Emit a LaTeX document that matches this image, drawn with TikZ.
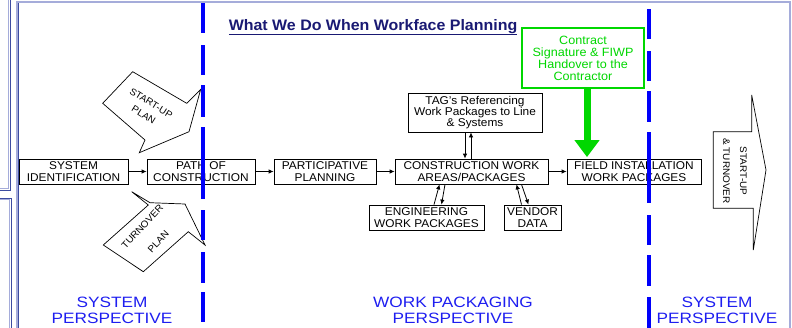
\documentclass[tikz,border=0pt]{standalone}
\usepackage{fontspec}
\setmainfont{Liberation Sans}[FakeStretch=1.05]
\newfontfamily\widefont{Liberation Sans}[FakeStretch=1.15]
\usepackage{tikz}
\usetikzlibrary{arrows.meta}
\definecolor{framelight}{RGB}{165,172,218}
\definecolor{framedark}{RGB}{60,75,160}
\definecolor{divblue}{RGB}{0,0,250}
\definecolor{persblue}{RGB}{30,30,240}
\definecolor{titlenavy}{RGB}{25,25,115}
\definecolor{handgreen}{RGB}{0,215,0}
\tikzset{wpbox/.style={draw, line width=0.8pt, fill=white, inner sep=0pt, align=center, font=\fontsize{11.3}{11.3}\selectfont}}
\tikzset{flow/.style={line width=0.8pt, -{Latex[length=5pt,width=4.5pt]}}}
\tikzset{callout/.style={draw, line width=0.7pt, fill=white, line join=miter}}
\tikzset{callouttext/.style={align=center, inner sep=0pt, font=\fontsize{9.5}{14}\selectfont}}
\tikzset{perspective/.style={text=persblue, align=center, inner sep=0pt, font=\widefont\fontsize{15}{16}\selectfont}}
\tikzset{divider/.style={divblue, line width=4pt}}
\tikzset{handover/.style={draw=handgreen, line width=2.5pt, fill=white, text=handgreen, inner sep=0pt, align=center, font=\fontsize{12}{12}\selectfont}}
\tikzset{handarrow/.style={handgreen, line width=7pt, -{Triangle[length=17pt,width=24pt]}, shorten >=1.5pt}}

\begin{document}
\begin{tikzpicture}
[x=1pt,y=-1pt]
%workface planning: system view and work packaging view, split by the two dashed lines
\useasboundingbox (0,0) rectangle (792,327);
\draw[framelight, line width=2pt] (17,2) rectangle (790,340);
\draw[framedark, line width=0.8pt] (18.5,3) -- (18.5,340);
\draw[framelight, line width=1.2pt] (-5,188.5) -- (8.5,188.5) -- (8.5,-5);
\draw[framedark, line width=0.8pt] (-5,190) -- (10,190) -- (10,-5);
\draw[framelight, line width=1.2pt] (-5,199.5) -- (9.5,199.5) -- (9.5,340);
\draw[framedark, line width=0.8pt] (-5,198) -- (11,198) -- (11,340);
\node (title) at (373,30)[anchor=base, text=titlenavy, font=\bfseries\fontsize{15.2}{16}\selectfont]{\underline{What We Do When Workface Planning}};
\node (sysid) at (73.5,171.5)[wpbox, minimum width=109pt, minimum height=25pt]{SYSTEM\\IDENTIFICATION};
\node (path) at (201,171.5)[wpbox, minimum width=108pt, minimum height=25pt]{PATH OF\\CONSTRUCTION};
\node (partic) at (325,171.5)[wpbox, minimum width=102pt, minimum height=25pt]{PARTICIPATIVE\\PLANNING};
\node (cwp) at (471.5,171.5)[wpbox, minimum width=153pt, minimum height=25pt]{CONSTRUCTION WORK\\AREAS/PACKAGES};
\node (field) at (634,171.5)[wpbox, minimum width=134pt, minimum height=25pt]{FIELD INSTALLATION\\WORK PACKAGES};
\node (tag) at (475,112.5)[wpbox, minimum width=134pt, minimum height=39pt]{TAG's Referencing\\Work Packages to Line\\\& Systems};
\node (eng) at (426.5,217.5)[wpbox, minimum width=115pt, minimum height=25pt]{ENGINEERING\\WORK PACKAGES};
\node (vendor) at (532.5,217.5)[wpbox, minimum width=57pt, minimum height=25pt]{VENDOR\\DATA};
\node (contract) at (583,58)[handover, minimum width=122pt, minimum height=60pt]{Contract\\Signature \& FIWP\\Handover to the\\Contractor};
\draw[flow] (sysid) -- (path);
\draw[flow] (path) -- (partic);
\draw[flow] (partic) -- (cwp);
\draw[flow] (cwp) -- (field);
\draw[flow] ([xshift=-10pt]tag.south) -- ([xshift=-10pt]tag.south |- cwp.north);
\draw[flow] ([xshift=-4pt]tag.south |- cwp.north) -- ([xshift=-4pt]tag.south);
\draw[flow] ([xshift=7.5pt]eng.north) -- ([xshift=-32pt]cwp.south);
\draw[flow] ([xshift=-26.5pt]cwp.south) -- ([xshift=15pt]eng.north);
\draw[flow] ([xshift=-11pt]vendor.north) -- ([xshift=45pt]cwp.south);
\draw[flow] ([xshift=50pt]cwp.south) -- ([xshift=-4pt]vendor.north);
\draw[handarrow] ([xshift=4pt]contract.south) -- ([xshift=4pt]contract.south |- field.north);
\draw[callout] (102.7,103.3) -- (132.7,71.7) -- (186.7,103.3) -- (200.7,89.3) -- (189,131.7) -- (139.3,152.7) -- (145,140) -- cycle;
\node (startup) at (147.5,109)[callouttext, rotate=-32]{START-UP\\PLAN};
\draw[callout] (103.3,245) -- (143.3,271.7) -- (188.3,231.7) -- (205,245) -- (185,204) -- (150,202.7) -- (131.7,191.7) -- (148.3,205) -- cycle;
\node (turnover) at (150.3,234.2)[callouttext, rotate=47, font=\fontsize{9.5}{22}\selectfont]{TURNOVER\\PLAN};
\draw[callout] (713.3,131.7) -- (751.7,131.7) -- (751.7,95) -- (766,170) -- (753.3,250) -- (753.3,208.3) -- (713.3,208.3) -- cycle;
\node (handoff) at (735,171)[callouttext, rotate=-90, font=\fontsize{9.5}{17}\selectfont]{START-UP\\\& TURNOVER};
\foreach \a/\b in {3/33,45/75,85/117,127/199,210/240,252/283,292/322}
  \draw[divider] (203.3,\a) -- (203.3,\b);
\foreach \a/\b in {9/39,51/81,91/122,132/203,215/245,255/286,297/330}
  \draw[divider] (649.3,\a) -- (649.3,\b);
\node (sysleft) at (112,310)[perspective]{SYSTEM\\PERSPECTIVE};
\node (wppers) at (453,310)[perspective]{WORK PACKAGING\\PERSPECTIVE};
\node (sysright) at (717,310)[perspective]{SYSTEM\\PERSPECTIVE};
\end{tikzpicture}
\end{document}
